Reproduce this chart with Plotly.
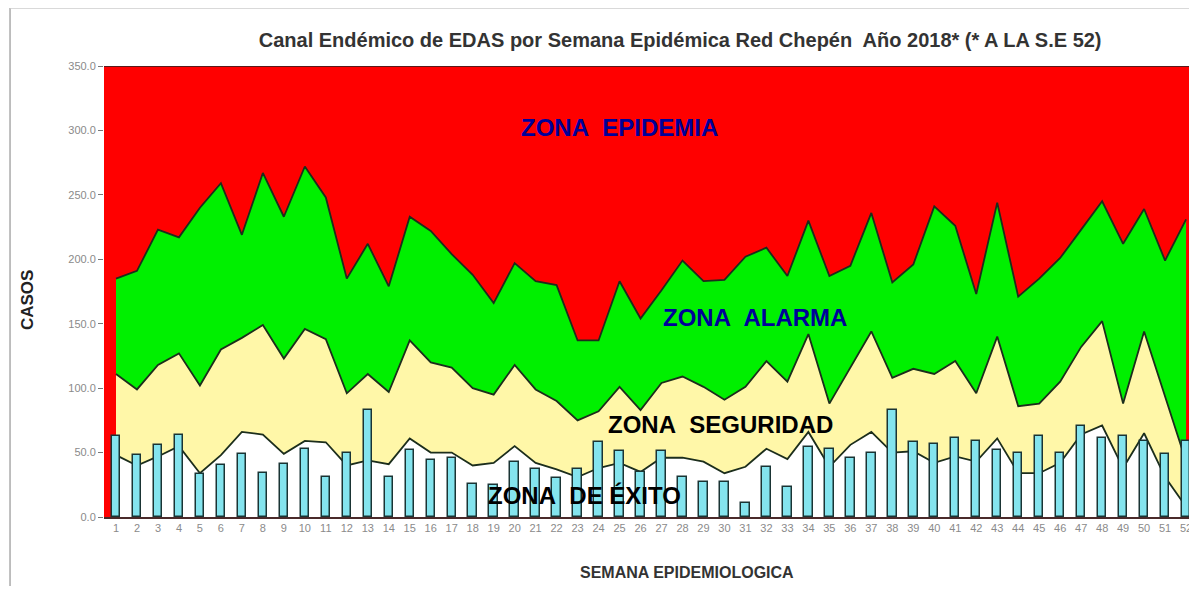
import plotly.graph_objects as go

# semanas epidemiologicas
semanas = list(range(1, 53))
tick_labels = [str(s) for s in semanas]

# canal endemico (limites de zonas)
limite_alarma = [185, 191, 223, 217, 240, 259, 219, 267, 233, 272, 248, 185, 212, 179, 233, 222, 204, 188,
                 166, 197, 183, 180, 137, 137, 183, 154, 176, 199, 183, 184, 202, 209, 187, 230, 187, 195,
                 236, 182, 196, 241, 226, 173, 244, 171, 185, 201, 223, 245, 212, 239, 199, 231]
limite_seguridad = [111, 99, 118, 127, 102, 130, 139, 149, 123, 146, 138, 96, 111, 97, 137, 120, 116, 100,
                    95, 118, 99, 90, 75, 82, 101, 83, 104, 109, 101, 91, 101, 121, 105, 142, 88, 116,
                    144, 108, 115, 111, 121, 96, 140, 86, 88, 105, 132, 152, 88, 144, 94, 43]
limite_exito = [48, 40, 47, 55, 34, 48, 66, 64, 49, 59, 58, 40, 44, 41, 61, 50, 50, 40,
                42, 55, 42, 37, 31, 38, 42, 35, 46, 46, 43, 34, 39, 53, 45, 66, 39, 56,
                66, 50, 51, 42, 47, 43, 61, 34, 34, 42, 64, 71, 38, 65, 31, 8]

# casos 2018
casos = [63, 48, 56, 64, 33, 40, 49, 34, 41, 53, 31, 50, 83, 31, 52, 44, 46, 26, 25, 43, 37, 30, 37, 58, 51, 35,
         51, 31, 27, 27, 11, 39, 23, 54, 53, 46, 50, 83, 58, 57, 61, 59, 52, 50, 63, 50, 71, 61, 63, 59, 49, 59]

LINE = '#1c2e1c'
fig = go.Figure()

for vals, color in [(limite_alarma, '#00f000'), (limite_seguridad, '#fff7a8'), (limite_exito, '#ffffff')]:
    fig.add_trace(go.Scatter(x=semanas, y=vals, mode='lines', fill='tozeroy', fillcolor=color,
                             line=dict(color=LINE, width=1.8), hoverinfo='skip', showlegend=False))

# bars on an overlaid axis so they sit above the filled areas
fig.add_trace(go.Bar(x=semanas, y=casos, xaxis='x2', width=0.4,
                     marker=dict(color='#84e4ee', line=dict(color='#1a3434', width=1.5)),
                     showlegend=False))

# page body has an 8px margin all round: size the figure so nothing overflows
x_range = [0.428, 52.14]
fig.update_layout(
    width=1181, height=578,
    margin=dict(l=96, r=0, t=58, b=69, autoexpand=False),
    paper_bgcolor='white', plot_bgcolor='#ff0000',
    font=dict(family='Liberation Sans, Arial', color='#333'),
    bargap=0,
    title=dict(text='<b>Canal Endémico de EDAS por Semana Epidémica Red Chepén  Año 2018* (* A LA S.E 52)</b>',
               x=0.531, xref='paper', xanchor='center', y=1 - 32 / 578, yanchor='middle',
               font=dict(size=20, color='#333')),
    xaxis=dict(range=x_range, tickvals=semanas, ticktext=tick_labels, showgrid=False, zeroline=False,
               tickfont=dict(size=11, color='#8a8a8a'), showline=True, linecolor='#4a2a2a', linewidth=1.5,
               ticks='', fixedrange=True, automargin=False, ticklabeloverflow='allow'),
    xaxis2=dict(range=x_range, overlaying='x', visible=False, automargin=False),
    yaxis=dict(range=[0, 350], tickvals=[0, 50, 100, 150, 200, 250, 300, 350], tickformat='.1f',
               showgrid=False, zeroline=False, ticks='outside', ticklen=5, tickcolor='#777',
               tickfont=dict(size=11, color='#8a8a8a'), showline=False, automargin=False),
)

zonas = [
    ('ZONA\u00a0 EPIDEMIA', 25.02, 302, '#000099'),
    ('ZONA\u00a0 ALARMA', 31.46, 155, '#000099'),
    ('ZONA\u00a0 SEGURIDAD', 29.79, 72, '#000000'),
    ('ZONA\u00a0 DE ÉXITO', 23.31, 17, '#000000'),
]
for txt, xx, yy, col in zonas:
    fig.add_annotation(x=xx, y=yy, text='<b>' + txt + '</b>', showarrow=False,
                       font=dict(size=24, color=col, family='Liberation Sans, Arial'))

fig.add_annotation(x=-0.071, y=0.481, xref='paper', yref='paper', text='<b>CASOS</b>', textangle=-90,
                   xanchor='center', yanchor='middle', showarrow=False, font=dict(size=17, color='#222'))
fig.add_annotation(x=0.537, y=-0.124, xref='paper', yref='paper', text='<b>SEMANA EPIDEMIOLOGICA</b>',
                   xanchor='center', yanchor='middle', showarrow=False, font=dict(size=16, color='#333'))

# top edge of the plot and the frame of the screenshot
fig.add_shape(type='line', xref='paper', yref='y', x0=0, x1=1, y0=350, y1=350,
              line=dict(color='#5a1a1a', width=2))
fig.add_shape(type='line', xref='paper', yref='paper', x0=-0.0866, x1=-0.0866, y0=-0.2, y1=1.1286,
              line=dict(color='#aaaaaa', width=1.5))
fig.add_shape(type='line', xref='paper', yref='paper', x0=-0.0866, x1=1.0, y0=1.1286, y1=1.1286,
              line=dict(color='#cccccc', width=1.5))

fig.write_html('out.html')
